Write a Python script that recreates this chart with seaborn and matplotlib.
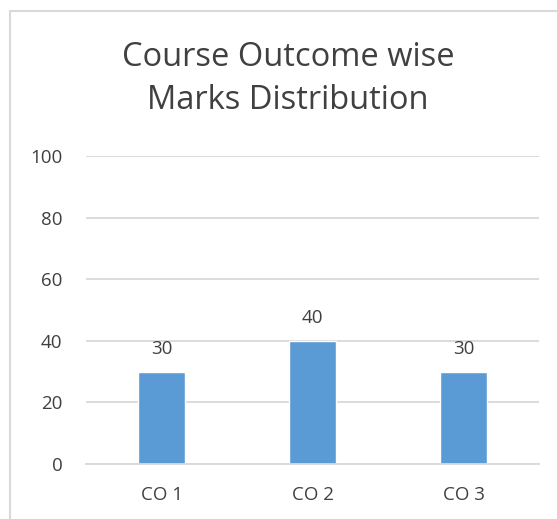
import pandas as pd
import seaborn as sns
import matplotlib.pyplot as plt
from matplotlib.patches import Rectangle

categories = ['CO 1', 'CO 2', 'CO 3']
marks = [30, 40, 30]
y_ticks = [0, 20, 40, 60, 80, 100]

df = pd.DataFrame({'CO': categories, 'Marks': marks})

sns.set_style("white")
plt.rcParams['font.family'] = ['Open Sans', 'DejaVu Sans']
text_color = '#404040'

fig = plt.figure(figsize=(5.57, 5.19), dpi=100)
ax = fig.add_axes([0.1544, 0.106, 0.8133, 0.5934])

sns.barplot(data=df, x='CO', y='Marks', color='#5B9BD5', width=0.31,
            saturation=1, ax=ax)

for i, v in enumerate(marks):
    ax.annotate(str(v), (i, v), xytext=(0, 10), textcoords='offset points',
                ha='center', va='bottom', fontsize=13.5, color=text_color)

ax.set_ylim(0, 100)
ax.set_yticks(y_ticks)
ax.yaxis.grid(True, color='#D9D9D9', linewidth=1.3)
ax.set_axisbelow(True)
for s in ['top', 'right', 'left']:
    ax.spines[s].set_visible(False)
ax.spines['bottom'].set_color('#D9D9D9')
ax.spines['bottom'].set_linewidth(1.3)
ax.tick_params(axis='y', length=0, pad=17, labelsize=13.5, labelcolor=text_color)
ax.tick_params(axis='x', length=0, pad=16, labelsize=13.5, labelcolor=text_color)
ax.set_xlabel('')
ax.set_ylabel('')

fig.text(0.517, 0.847, 'Course Outcome wise\nMarks Distribution', ha='center',
         va='center', fontsize=23.5, color=text_color, linespacing=1.4)

# chart border (only left/top visible in the crop)
fig.patches.append(Rectangle((10 / 557, -0.1), 1.2, 1 - 11 / 519 + 0.1,
                             transform=fig.transFigure, fill=False,
                             edgecolor='#D9D9D9', linewidth=1.5))

fig.savefig('out.png', dpi=100)
